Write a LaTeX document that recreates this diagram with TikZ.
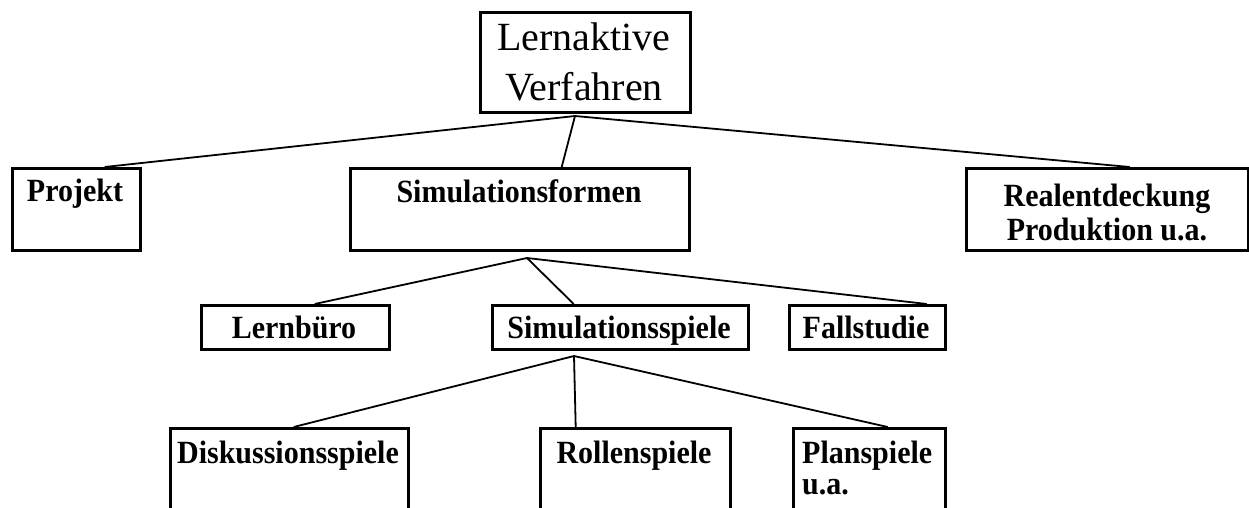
\documentclass[tikz,border=0pt]{standalone}
\usepackage{fontspec}
\setmainfont{Liberation Serif}
\newcommand{\tallbf}[1]{\scalebox{1}[1.08]{#1}}
\begin{document}
\begin{tikzpicture}[x=1pt,y=-1pt,
  box/.style={draw=black,line width=3.4pt,rectangle,inner sep=0pt,anchor=north west},
  conn/.style={draw=black,line width=1.8pt},
  title/.style={anchor=base,inner sep=0pt,font=\fontsize{40}{48}\selectfont},
  lbl/.style={anchor=base,inner sep=0pt,font=\fontsize{30}{34}\selectfont\bfseries}]
  \useasboundingbox (0,0) rectangle (1249,507);
  \clip (0,0) rectangle (1249,507);

  % top level
  \node[box,minimum width=210pt,minimum height=100pt] (top) at (479,11) {};
  \node[title] (topA) at (584,50) {Lernaktive};
  \node[title] (topB) at (584,100) {Verfahren};

  % second row
  \node[box,minimum width=128pt,minimum height=82pt] (projekt) at (11,167) {};
  \node[lbl] (projektT) at (75,201) {\tallbf{Projekt}};
  \node[box,minimum width=339pt,minimum height=82pt] (simform) at (349,167) {};
  \node[lbl] (simformT) at (519,202) {\tallbf{Simulationsformen}};
  \node[box,minimum width=282pt,minimum height=82pt] (real) at (965,167) {};
  \node[lbl] (realA) at (1107,206) {\tallbf{Realentdeckung}};
  \node[lbl] (realB) at (1107,240) {\tallbf{Produktion u.a.}};

  % third row
  \node[box,minimum width=188pt,minimum height=44pt] (lernbuero) at (200,304) {};
  \node[lbl] (lernbueroT) at (294,338) {\tallbf{Lernbüro}};
  \node[box,minimum width=256pt,minimum height=44pt] (simspiele) at (491,304) {};
  \node[lbl] (simspieleT) at (619,338) {\tallbf{Simulationsspiele}};
  \node[box,minimum width=156pt,minimum height=44pt] (fall) at (788,304) {};
  \node[lbl] (fallT) at (866,338) {\tallbf{Fallstudie}};

  % bottom row (runs past the lower edge)
  \node[box,minimum width=238pt,minimum height=120pt] (disk) at (169,427) {};
  \node[lbl] (diskT) at (288,463) {\tallbf{Diskussionsspiele}};
  \node[box,minimum width=190pt,minimum height=120pt] (rollen) at (539,427) {};
  \node[lbl] (rollenT) at (634,463) {\tallbf{Rollenspiele}};
  \node[box,minimum width=152pt,minimum height=120pt] (plan) at (792,427) {};
  \node[lbl,anchor=base west] (planA) at (802,463) {\tallbf{Planspiele}};
  \node[lbl,anchor=base west] (planB) at (802,494) {\tallbf{u.a.}};

  % branching points
  \coordinate (j1) at (575,116);
  \coordinate (j2) at (527,258);
  \coordinate (j3) at (574,356);

  % connectors
  \draw[conn] (j1) -- ([xshift=28pt]projekt.north);
  \draw[conn] (j1) -- ([xshift=41.5pt]simform.north);
  \draw[conn] (j1) -- ([xshift=22pt]real.north);
  \draw[conn] (j2) -- ([xshift=19pt]lernbuero.north);
  \draw[conn] (j2) -- ([xshift=-47pt]simspiele.north);
  \draw[conn] (j2) -- ([xshift=59pt]fall.north);
  \draw[conn] (j3) -- ([xshift=4pt]disk.north);
  \draw[conn] (j3) -- ([xshift=-60pt]rollen.north);
  \draw[conn] (j3) -- ([xshift=18pt]plan.north);
\end{tikzpicture}
\end{document}
